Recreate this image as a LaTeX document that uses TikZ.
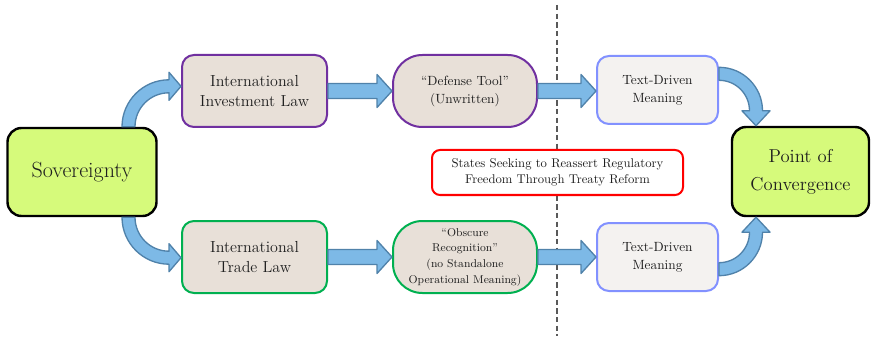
\documentclass[tikz,border=0pt]{standalone}
\usetikzlibrary{calc}
\definecolor{limefill}{RGB}{214,250,123}
\definecolor{lawfill}{RGB}{232,224,216}
\definecolor{meaningfill}{RGB}{244,242,240}
\definecolor{invpurple}{RGB}{112,48,160}
\definecolor{tradegreen}{RGB}{0,176,80}
\definecolor{meaningblue}{RGB}{130,145,255}
\definecolor{arrowfill}{RGB}{125,185,230}
\definecolor{arrowline}{RGB}{80,130,170}
\definecolor{textgray}{RGB}{30,30,30}
\tikzset{
	box/.style={draw, rounded corners=9pt, align=center, inner sep=2pt, text=textgray, line width=1.5pt},
	endbox/.style={box, fill=limefill, line width=1.8pt, rounded corners=10.5pt},
	lawbox/.style={box, fill=lawfill, minimum width=108.75pt, minimum height=54pt, font=\fontsize{12}{15.5}\selectfont},
	pillbox/.style={box, fill=lawfill, rounded corners=22pt, minimum width=108pt, minimum height=54pt},
	meaningbox/.style={box, draw=meaningblue, fill=meaningfill, minimum width=90.75pt, minimum height=51pt, font=\fontsize{10}{13.5}\selectfont},
	blockarrow/.style={draw=arrowline, fill=arrowfill, line width=1pt, line join=round}
}
\begin{document}
\begin{tikzpicture}[x=0.75pt, y=0.75pt, line join=round]
	\useasboundingbox (0,0) rectangle (871,336);
	\draw[gray!70!black, line width=1pt, dash pattern=on 4pt off 2.5pt] (557,331) -- (557,0);
	\node[endbox, minimum width=111.75pt, minimum height=66pt, font=\fontsize{16.5}{21}\selectfont] (sov) at (82,164) {Sovereignty};
	\node[lawbox, draw=invpurple] (inv) at (254.5,245) {International\\Investment Law};
	\node[lawbox, draw=tradegreen] (trade) at (254.5,79) {International\\Trade Law};
	\node[pillbox, draw=invpurple, font=\fontsize{10}{13.5}\selectfont] (def) at (465,245) {“Defense Tool”\\(Unwritten)};
	\node[pillbox, draw=tradegreen, font=\fontsize{8.5}{11.75}\selectfont] (obs) at (465,79) {“Obscure\\Recognition”\\(no Standalone\\Operational Meaning)};
	\node[meaningbox] (td1) at (657.5,246) {Text-Driven\\Meaning};
	\node[meaningbox] (td2) at (657.5,79) {Text-Driven\\Meaning};
	\node[box, draw=red, fill=white, rounded corners=6pt, minimum width=188.25pt, minimum height=33.75pt, font=\fontsize{9.5}{12}\selectfont] (reform) at (557.5,163.5) {States Seeking to Reassert Regulatory\\Freedom Through Treaty Reform};
	\node[endbox, minimum width=102.75pt, minimum height=66.75pt, font=\fontsize{14}{21}\selectfont] (poc) at (800.5,164.5) {Point of\\Convergence};
	\foreach \a/\b in {inv/def, def/td1, trade/obs, obs/td2}
		\draw[blockarrow] ($(\a.east)+(0,7.5)$) -- ($(\a.east -| \b.west)+(-15,7.5)$) -- ($(\a.east -| \b.west)+(-15,16.5)$) -- (\a.east -| \b.west) -- ($(\a.east -| \b.west)+(-15,-16.5)$) -- ($(\a.east -| \b.west)+(-15,-7.5)$) -- ($(\a.east)+(0,-7.5)$) -- cycle;
	\coordinate (c1) at ($(sov.north -| inv.west)+(-12,0)$);
	\coordinate (c2) at ($(sov.south -| trade.west)+(-12,0)$);
	\coordinate (c3) at ($(td1.east |- poc.north)+(0,15)$);
	\coordinate (c4) at ($(td2.east |- poc.south)+(0,-15)$);
	\draw[blockarrow] ($(c1)+(-47,0)$) arc[start angle=180, end angle=90, radius=47] -- ($(c1)+(0,54.5)$) -- ($(c1)+(12,40.5)$) -- ($(c1)+(0,26.5)$) -- ($(c1)+(0,34)$) arc[start angle=90, end angle=180, radius=34] -- cycle;
	\draw[blockarrow] ($(c2)+(-47,0)$) arc[start angle=180, end angle=270, radius=47] -- ($(c2)+(0,-54.5)$) -- ($(c2)+(12,-40.5)$) -- ($(c2)+(0,-26.5)$) -- ($(c2)+(0,-34)$) arc[start angle=270, end angle=180, radius=34] -- cycle;
	\draw[blockarrow] ($(c3)+(0,43.5)$) arc[start angle=90, end angle=0, radius=43.5] -- ($(c3)+(51,0)$) -- ($(c3)+(37,-15)$) -- ($(c3)+(23,0)$) -- ($(c3)+(30.5,0)$) arc[start angle=0, end angle=90, radius=30.5] -- cycle;
	\draw[blockarrow] ($(c4)+(0,-43.5)$) arc[start angle=270, end angle=360, radius=43.5] -- ($(c4)+(51,0)$) -- ($(c4)+(37,15)$) -- ($(c4)+(23,0)$) -- ($(c4)+(30.5,0)$) arc[start angle=360, end angle=270, radius=30.5] -- cycle;
\end{tikzpicture}
\end{document}
